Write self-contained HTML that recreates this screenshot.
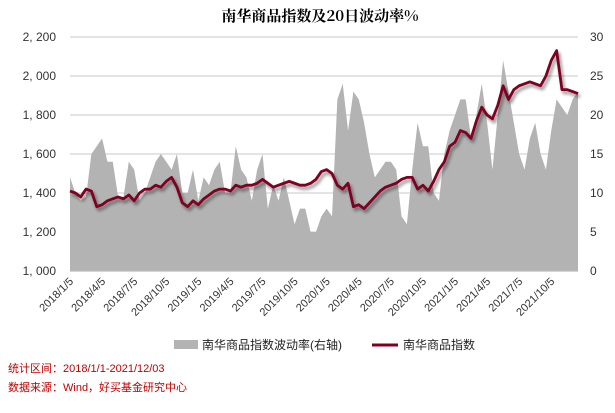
<!DOCTYPE html>
<html><head><meta charset="utf-8"><style>
body{margin:0;width:615px;height:408px;background:#fff;font-family:"Liberation Sans","Noto Sans CJK SC",sans-serif;overflow:hidden}
</style></head><body>
<svg id="c" width="615" height="408" xmlns="http://www.w3.org/2000/svg">
<defs><filter id="sh" x="-5%" y="-5%" width="110%" height="120%"><feGaussianBlur in="SourceAlpha" stdDeviation="1.5"/><feOffset dx="2" dy="3"/><feComponentTransfer><feFuncA type="linear" slope="0.45"/></feComponentTransfer><feMerge><feMergeNode/><feMergeNode in="SourceGraphic"/></feMerge></filter></defs>
<text x="320" y="21" text-anchor="middle" font-size="15" font-weight="bold" font-family="'Noto Serif CJK SC','Liberation Serif',serif">南华商品指数及20日波动率%</text>
<g id="grid"></g><g id="area"></g><g id="line"></g><g id="axes"></g>
<g>
<rect x="174" y="340" width="24" height="9" fill="#b3b3b3"/>
<text x="202" y="349" font-size="12" fill="#222">南华商品指数波动率(右轴)</text>
<line x1="372" y1="345" x2="398" y2="345" stroke="#800020" stroke-width="3"/>
<text x="403" y="349" font-size="12" fill="#222">南华商品指数</text>
</g>
<text x="8" y="372" font-size="11" fill="#c00000">统计区间：2018/1/1-2021/12/03</text>
<text x="8" y="391" font-size="11" fill="#c00000">数据来源：Wind，好买基金研究中心</text>
</svg>
<script>
const indexValues=[1410,1400,1380,1420,1410,1330,1340,1360,1370,1380,1370,1390,1360,1400,1420,1420,1440,1430,1460,1480,1430,1350,1330,1360,
1340,1370,1390,1410,1420,1420,1410,1440,1430,1440,1440,1450,1470,1450,1430,1440,1450,1460,1450,1440,1440,1450,1470,1510,
1520,1500,1440,1420,1450,1330,1340,1320,1350,1380,1410,1430,1440,1450,1470,1480,1480,1420,1440,1410,1460,1520,1560,1640,
1660,1720,1710,1680,1770,1840,1800,1780,1850,1950,1880,1930,1950,1960,1970,1960,1950,2000,2080,2130,1930,1930,1920,1910];
const volValues=[12,10,9,9.5,15,16,17,14,14,9.5,9.5,14,13,9,10,12,14,15,14,13,15,10,10,13,
9,12,11,13,14,10,10,16,13,12,9,13,15,8,11,9,12,9,6,8,8,5,5,7,
8,7,22,24,18,23,22,19,15,12,13,14,14,13,7,6,13,19,16,16,10,9,15,18,
20,22,22,17,20,24,19,13,20,27,23,19,15,13,17,19,15,13,18,22,21,20,22,23];
const leftTicks=[1000,1200,1400,1600,1800,2000,2200];
const rightTicks=[0,5,10,15,20,25,30];
const xLabels=["2018/1/5","2018/4/5","2018/7/5","2018/10/5","2019/1/5","2019/4/5","2019/7/5","2019/10/5","2020/1/5","2020/4/5","2020/7/5","2020/10/5","2021/1/5","2021/4/5","2021/7/5","2021/10/5"];
const X0=70,X1=578,Y0=271,Y1=37,NS="http://www.w3.org/2000/svg";
const n=indexValues.length;
const xs=i=>X0+i*(X1-X0)/(n-1);
const yl=v=>Y0-(v-1000)/1200*(Y0-Y1);
const yr=v=>Y0-v/30*(Y0-Y1);
function mk(t,a,p){const e=document.createElementNS(NS,t);for(const k in a)e.setAttribute(k,a[k]);p.appendChild(e);return e;}
const grid=document.getElementById('grid'),axes=document.getElementById('axes');
leftTicks.forEach((v,i)=>{
 const g=mk('line',{x1:X0,x2:X1,y1:yl(v),y2:yl(v),stroke:'#dcdcdc','stroke-width':1.5},grid);
 
 
 const t=mk('text',{x:X0-14,y:yl(v)+4,'text-anchor':'end','font-size':12,fill:'#333'},axes);
 t.textContent=v.toLocaleString('en-US').replace(',',', ');
 
 
});
rightTicks.forEach(v=>{
 const t=mk('text',{x:X1+12,y:yr(v)+4,'font-size':12,fill:'#333'},axes);
 t.textContent=v;
 
 
});
xLabels.forEach((s,i)=>{
 const x=xs(i*6)+4,y=282;
 const t=mk('text',{x:x,y:y,'text-anchor':'end','font-size':11,fill:'#333',transform:`rotate(-45 ${x} ${y})`},axes);
 t.textContent=s;
 
 
});
let d=`M${X0},${Y0}`;volValues.forEach((v,i)=>d+=`L${xs(i)},${yr(v)}`);d+=`L${X1},${Y0}Z`;
const a=mk('path',{d:d,fill:'#b3b3b3'},document.getElementById('area'));


let p='';indexValues.forEach((v,i)=>p+=(i?'L':'M')+xs(i)+','+yl(v));
const l=mk('path',{d:p,fill:'none',stroke:'#800020','stroke-width':2.8,'stroke-linejoin':'round',filter:'url(#sh)'},document.getElementById('line'));


const ax=mk('line',{x1:X0,x2:X1,y1:Y0,y2:Y0,stroke:'#bbb','stroke-width':1},axes);


</script>
</body></html>
